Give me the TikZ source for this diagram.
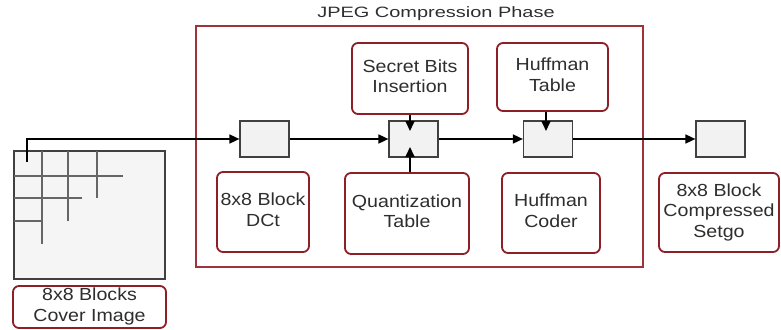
\documentclass[tikz,border=0pt]{standalone}
\usepackage{fontspec}
\setmainfont{Liberation Sans}
\usepackage{graphicx}
\usetikzlibrary{arrows.meta}
\definecolor{boxred}{HTML}{8E1F26}
\definecolor{framered}{HTML}{A0323A}
\definecolor{txtgray}{HTML}{2E2E2E}
\definecolor{cellfill}{HTML}{F2F2F2}
\newcommand\boxtxt[1]{\scalebox{1.12}[1]{\fontsize{17.5}{20.5}\selectfont\begin{tabular}{@{}c@{}}#1\end{tabular}}}
\begin{document}
\begin{tikzpicture}[x=1pt,y=-1pt,
  redbox/.style={draw=boxred,line width=1.8pt,rounded corners=6pt,fill=white,inner sep=0pt,text=txtgray,align=center},
  cell/.style={draw=black!75,line width=1.2pt,fill=cellfill,minimum width=49pt,minimum height=36pt,inner sep=0pt},
  flow/.style={line width=1.6pt,-{Triangle[length=10pt,width=9pt]}},
  grid/.style={draw=black!60,line width=1.6pt}]
\useasboundingbox (0,0) rectangle (781,329);
% frame
\draw[framered,line width=1.3pt] (196,26) rectangle (643,267);
\node[text=txtgray,inner sep=0pt] (title) at (436,14) {\scalebox{1.33}[1]{\fontsize{15}{17}\selectfont JPEG Compression Phase}};
% cover image
\draw[draw=black!75,line width=1.6pt,fill=black!4] (14,151) rectangle (165,279);
\draw[grid] (42,151) -- (42,244);
\draw[grid] (68,151) -- (68,221);
\draw[grid] (97,151) -- (97,198);
\draw[grid] (14,176) -- (123,176);
\draw[grid] (14,198) -- (82,198);
\draw[grid] (14,221) -- (42,221);
\node[redbox,minimum width=153pt,minimum height=42pt] (cover) at (89.5,307) {\boxtxt{8x8 Blocks\\Cover Image}};
% cells
\node[cell] (b1) at (264.5,139) {};
\node[cell] (b2) at (413.5,139) {};
\node[cell] (b3) at (548,139) {};
\node[cell] (b4) at (720.5,139) {};
% red boxes
\node[redbox,minimum width=116pt,minimum height=71pt] (secret) at (410,78.5) {\boxtxt{Secret Bits\\Insertion}};
\node[redbox,minimum width=111pt,minimum height=68pt] (htable) at (552.5,77) {\boxtxt{Huffman\\Table}};
\node[redbox,minimum width=92pt,minimum height=80pt] (dct) at (263,212) {\boxtxt{8x8 Block\\DCt}};
\node[redbox,minimum width=124pt,minimum height=81pt] (quant) at (407,213.5) {\boxtxt{Quantization\\Table}};
\node[redbox,minimum width=98pt,minimum height=80pt] (hcoder) at (551,213) {\boxtxt{Huffman\\Coder}};
\node[redbox,minimum width=120pt,minimum height=79pt] (comp) at (719,212.5) {\boxtxt{8x8 Block\\Compressed\\Setgo}};
% connectors
\coordinate (start) at (27,162);
\coordinate (b2top) at (410,131);
\coordinate (b2bot) at (410,147);
\coordinate (b3top) at (546,131);
\draw[flow] (start) |- (b1.west);
\draw[flow] (b1.east) -- (b2.west);
\draw[flow] (b2.east) -- (b3.west);
\draw[flow] (b3.east) -- (b4.west);
\draw[flow] (secret.south -| b2top) -- (b2top);
\draw[flow] (quant.north -| b2bot) -- (b2bot);
\draw[flow] (htable.south -| b3top) -- (b3top);
\end{tikzpicture}
\end{document}
